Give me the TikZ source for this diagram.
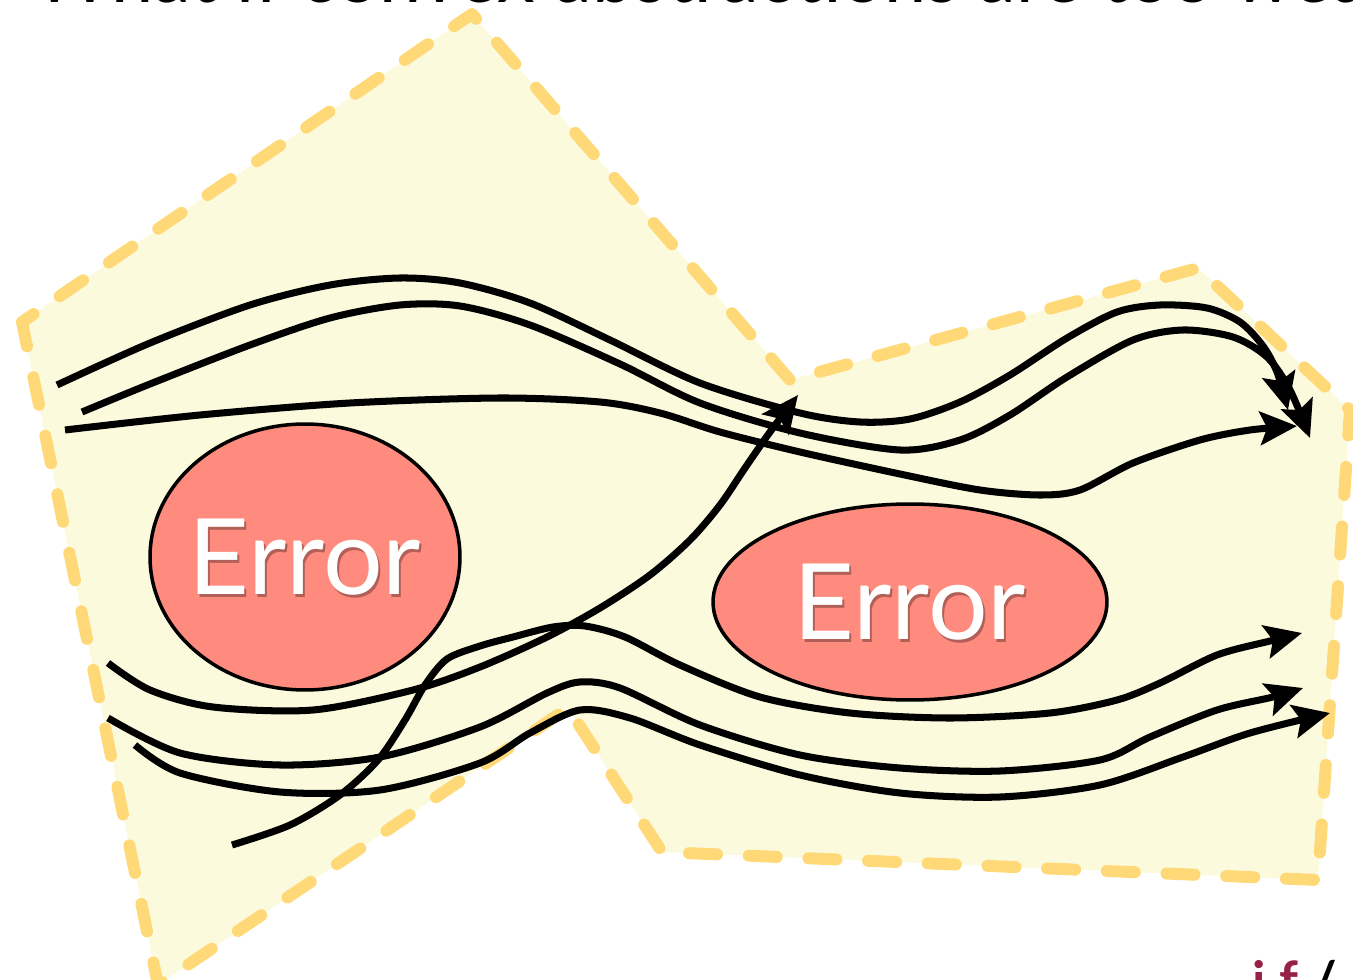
\documentclass[tikz,border=0pt]{standalone}
\usepackage{fontspec}
\newfontfamily\slidefont{Lato}
\usepackage{xcolor}
\usetikzlibrary{arrows.meta,shapes.geometric}

\definecolor{zonefill}{RGB}{252,250,220}
\definecolor{zoneedge}{RGB}{255,217,120}
\definecolor{errfill}{RGB}{255,138,126}
\definecolor{logored}{RGB}{150,35,70}

\begin{document}
\begin{tikzpicture}[x=0.02cm, y=-0.02cm,
  zone/.style={fill=zonefill, draw=zoneedge, line width=6.8pt, line cap=round,
    line join=round, dash pattern=on 16pt off 18pt, dash phase=8pt},
  flow/.style={line width=4pt, -{Stealth[length=21pt,width=19pt,inset=4pt]}},
  errblob/.style={ellipse, draw=black, line width=2pt, fill=errfill, inner sep=0pt},
  errtext/.style={font=\slidefont\fontsize{60}{60}\selectfont, text=white, inner sep=0pt},
  errshade/.style={errtext, text=black, opacity=0.3}]

\useasboundingbox (0,0) rectangle (1353,980);

% heading, only its lower edge is on the page
\node [anchor=base west, inner sep=0pt, font=\slidefont\fontsize{43}{43}\selectfont] (title) at (33,3) {What if convex abstractions are too weak};

% the region
\draw [zone] (22,322) -- (472,14) -- (790,380) -- (1198,268) -- (1350,410) -- (1318,880)
  -- (662,852) -- (568,708) -- (158,985) -- cycle;

% the two error sets
\node [errblob, minimum width=6.2cm, minimum height=5.32cm] (errL) at (305,557) {};
\node [errblob, minimum width=7.88cm, minimum height=3.92cm] (errR) at (910,602) {};
\node [errshade] (errLshade) at ([shift={(2,3)}]errL) {Error};
\node [errtext] (errLtext) at (errL) {Error};
\node [errshade] (errRshade) at ([shift={(2,3)}]errR) {Error};
\node [errtext] (errRtext) at (errR) {Error};

% upper trajectories
\draw [flow] plot[smooth] coordinates {(57,385) (150,343) (250,305) (330,285) (400,278) (460,283) (530,303) (610,340) (700,383) (800,413) (860,422) (910,419) (960,402) (1010,375) (1067,338) (1117,312) (1160,305) (1207,308) (1240,322) (1263,346) (1277,372) (1288,410)};
\draw [flow] plot[smooth] coordinates {(82,412) (150,384) (250,345) (330,318) (400,305) (460,306) (530,325) (620,364) (700,403) (800,433) (900,450) (960,440) (1010,415) (1067,377) (1133,340) (1183,330) (1233,337) (1267,357) (1290,390) (1310,438)};
\draw [flow] plot[smooth] coordinates {(65,430) (200,415) (350,403) (500,398) (600,402) (660,413) (720,432) (800,452) (900,474) (980,490) (1040,495) (1080,490) (1133,463) (1200,440) (1250,430) (1297,426)};

% lower trajectories
\draw [flow] plot[smooth] coordinates {(108,663) (150,690) (213,707) (313,710) (413,690) (480,667) (547,637) (600,608) (650,575) (690,540) (720,505) (745,468) (770,432) (798,395)};
\draw [flow] plot[smooth] coordinates {(232,845) (290,825) (340,795) (378,760) (405,720) (425,685) (447,659) (480,646) (513,637) (553,627) (585,626) (625,637) (680,665) (760,697) (850,713) (950,718) (1050,713) (1117,700) (1160,683) (1217,655) (1270,641) (1302,633)};
\draw [flow] plot[smooth] coordinates {(108,718) (180,753) (280,765) (380,757) (480,727) (547,693) (580,682) (620,688) (700,725) (800,755) (900,768) (1000,771) (1100,760) (1150,737) (1217,710) (1273,697) (1303,688)};
\draw [flow] plot[smooth] coordinates {(135,745) (180,773) (280,792) (380,790) (480,763) (530,733) (580,710) (630,718) (700,745) (800,775) (900,793) (1000,797) (1100,785) (1183,757) (1250,733) (1330,713)};

% corner mark
\node [anchor=north west, inner sep=0pt, font=\slidefont\bfseries\fontsize{30}{30}\selectfont] (logo) at (1252,960) {\textcolor{logored}{i\hspace{8pt}f}\hspace{8pt}/};

\end{tikzpicture}
\end{document}
